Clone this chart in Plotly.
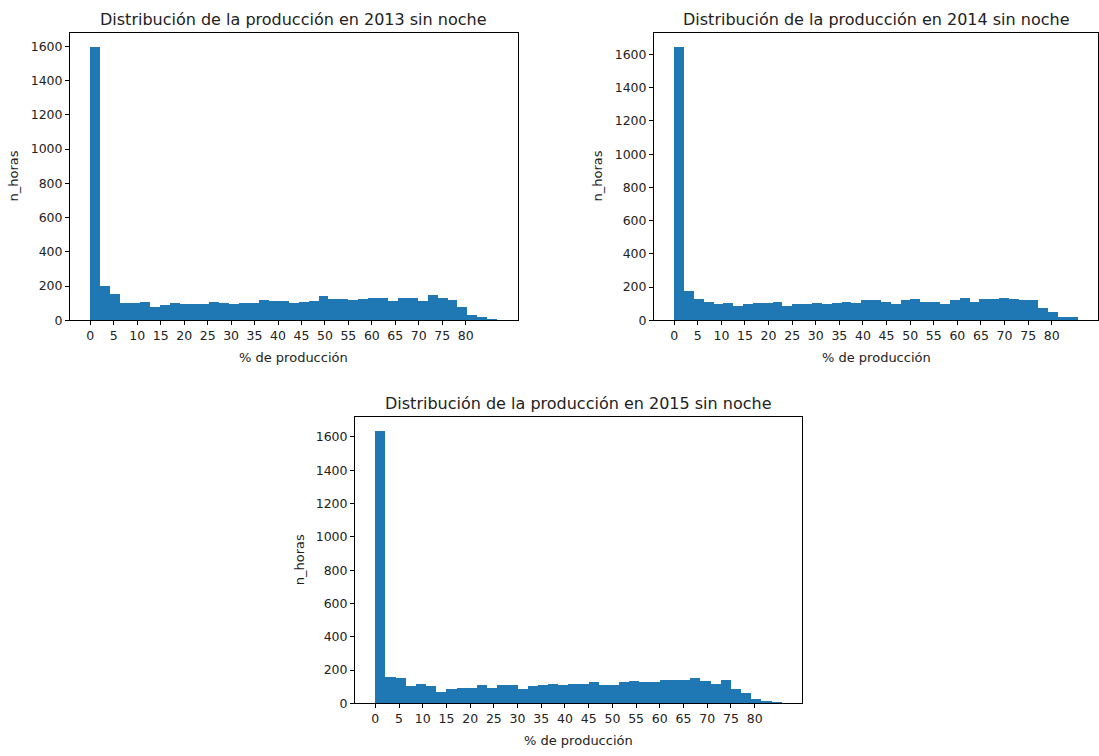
import plotly.graph_objects as go

W, H = 1099, 756

years = ["2013", "2014", "2015"]

counts_2013 = [1600, 200, 158, 100, 100, 107, 81, 89, 102, 98, 98, 98, 110, 104, 98, 100,
               102, 120, 112, 112, 104, 110, 112, 145, 129, 129, 120, 129, 135, 135, 112,
               135, 135, 112, 150, 135, 120, 81, 35, 19, 10]
counts_2014 = [1649, 178, 131, 115, 99, 107, 91, 99, 107, 107, 115, 91, 99, 99, 107, 99,
               107, 115, 107, 123, 123, 115, 99, 123, 131, 115, 115, 99, 123, 139, 115,
               131, 131, 139, 131, 123, 123, 75, 52, 20, 20]
counts_2015 = [1637, 158, 150, 103, 118, 103, 71, 87, 95, 95, 111, 95, 111, 111, 87, 103,
               111, 118, 111, 118, 118, 126, 111, 111, 126, 134, 126, 126, 142, 142, 142,
               150, 134, 118, 142, 87, 63, 24, 16, 8]

bin_width = {"2013": 2.115, "2014": 2.086, "2015": 2.1425}
counts = {"2013": counts_2013, "2014": counts_2014, "2015": counts_2015}

x_ticks = list(range(0, 81, 5))
y_ticks = list(range(0, 1601, 200))

title_text = "Distribución de la producción en {} sin noche"
x_label = "% de producción"
y_label = "n_horas"

# pixel boxes of each axes (left, right, top, bottom)
boxes = {
    "2013": (70, 517.5, 33, 323.3),
    "2014": (654, 1098, 33, 323.3),
    "2015": (355, 802, 421, 710),
}

FONT = "DejaVu Sans"
fig = go.Figure()
annotations = []

for i, yr in enumerate(years):
    ax = "" if i == 0 else str(i + 1)
    c = counts[yr]
    w = bin_width[yr]
    xs = [(k + 0.5) * w for k in range(len(c))]
    xmax = len(c) * w
    fig.add_trace(go.Bar(
        x=xs, y=c, width=w,
        marker=dict(color="#1f77b4", line=dict(width=0)),
        xaxis="x" + ax, yaxis="y" + ax, showlegend=False,
    ))
    l, r, t, b = boxes[yr]
    axis_common = dict(
        showline=True, linecolor="black", linewidth=1, mirror=True,
        ticks="outside", ticklen=4, tickwidth=1, tickcolor="black",
        showgrid=False, zeroline=False,
        tickfont=dict(family=FONT, size=12.5, color="#222222"),
    )
    fig.update_layout(**{
        "xaxis" + ax: dict(
            domain=[l / W, r / W], anchor="y" + ax,
            range=[-0.05 * xmax, 1.05 * xmax],
            tickvals=x_ticks, ticktext=[str(v) for v in x_ticks],
            **axis_common),
        "yaxis" + ax: dict(
            domain=[1 - b / H, 1 - t / H], anchor="x" + ax,
            range=[0, 1.05 * max(c)],
            tickvals=y_ticks, ticktext=[str(v) for v in y_ticks],
            **axis_common),
    })
    cx = (l + r) / 2
    annotations.append(dict(
        text=title_text.format(yr), x=cx / W, y=1 - (t - 2) / H,
        xref="paper", yref="paper", xanchor="center", yanchor="bottom",
        showarrow=False, font=dict(family=FONT, size=16, color="#222222")))
    annotations.append(dict(
        text=x_label, x=cx / W, y=1 - (b + 28) / H,
        xref="paper", yref="paper", xanchor="center", yanchor="top",
        showarrow=False, font=dict(family=FONT, size=13, color="#222222")))
    annotations.append(dict(
        text=y_label, x=(l - 56) / W, y=1 - ((t + b) / 2) / H,
        xref="paper", yref="paper", xanchor="center", yanchor="middle",
        textangle=-90,
        showarrow=False, font=dict(family=FONT, size=13, color="#222222")))

fig.update_layout(
    width=W, height=H,
    margin=dict(l=0, r=0, t=0, b=0),
    paper_bgcolor="white", plot_bgcolor="white",
    bargap=0, annotations=annotations,
    font=dict(family=FONT),
)

fig.write_html("out.html")
